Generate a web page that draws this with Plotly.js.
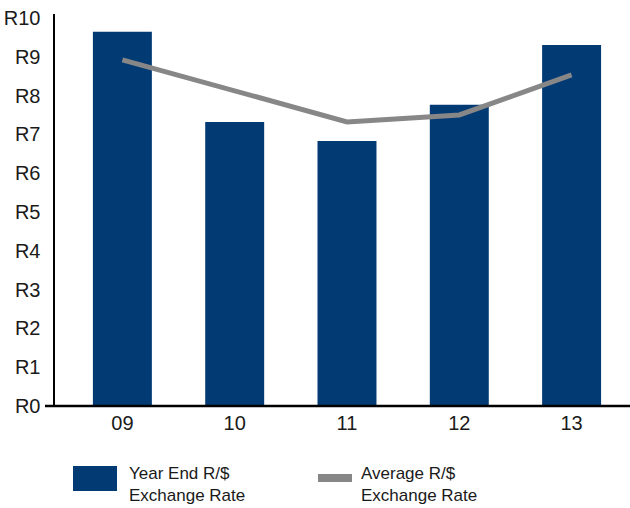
<!DOCTYPE html>
<html>
<head>
<meta charset="utf-8">
<script src="https://cdn.plot.ly/plotly-3.0.1.min.js"></script>
<style>html,body{margin:0;padding:0;background:#fff;}#chart{width:630px;height:508px;}</style>
</head>
<body>
<div id="chart"></div>
<script>
const years = ["09", "10", "11", "12", "13"];
const yearEndRate = [9.64, 7.32, 6.83, 7.76, 9.30];
const averageRate = [8.92, 8.12, 7.32, 7.50, 8.53];
const yTickValues = [0, 1, 2, 3, 4, 5, 6, 7, 8, 9, 10];
const yTickLabels = ["R0", "R1", "R2", "R3", "R4", "R5", "R6", "R7", "R8", "R9", "R10"];
const legendNames = ["Year End R/$<br>Exchange Rate", "Average R/$<br>Exchange Rate"];

const FONT = "'Liberation Sans', Arial, sans-serif";
const BAR_COLOR = "#023a74";
const LINE_COLOR = "#878787";
const TEXT_COLOR = "#1a1a1a";

const traces = [
  {
    type: "bar", x: years, y: yearEndRate, width: 0.525,
    marker: {color: BAR_COLOR}, name: "Year End", showlegend: false, hoverinfo: "skip"
  },
  {
    type: "scatter", mode: "lines", x: years, y: averageRate,
    line: {color: LINE_COLOR, width: 5}, name: "Average", showlegend: false, hoverinfo: "skip"
  }
];

const plotW = 575;
const layout = {
  width: 630, height: 508,
  margin: {l: 55, r: 0, t: 14, b: 102},
  paper_bgcolor: "#fff", plot_bgcolor: "#fff",
  font: {family: FONT, size: 20, color: TEXT_COLOR},
  xaxis: {
    type: "category", range: [-0.6, 4.52],
    showgrid: false, zeroline: false, showline: false,
    ticks: "", ticklabelstandoff: 3, tickfont: {family: FONT, size: 20, color: TEXT_COLOR}
  },
  yaxis: {
    range: [0, 10.1], tickvals: yTickValues, ticktext: yTickLabels,
    showgrid: false, zeroline: false, showline: true, linecolor: "#000", linewidth: 2.5,
    ticks: "", ticklabelstandoff: 8, tickfont: {family: FONT, size: 20, color: TEXT_COLOR}
  },
  shapes: [
    {type: "line", xref: "paper", yref: "paper", x0: -10/plotW, x1: 1, y0: 0, y1: 0,
     line: {color: "#000", width: 2.5}},
    {type: "rect", xref: "paper", yref: "paper",
     x0: (73-55)/plotW, x1: (117-55)/plotW, y0: -(491-406)/392, y1: -(466-406)/392,
     fillcolor: BAR_COLOR, line: {width: 0}},
    {type: "line", xref: "paper", yref: "paper",
     x0: (318-55)/plotW, x1: (352-55)/plotW, y0: -(478-406)/392, y1: -(478-406)/392,
     line: {color: LINE_COLOR, width: 8}}
  ],
  annotations: [
    {xref: "paper", yref: "paper", x: (127-55)/plotW, y: -(462-406)/392,
     xanchor: "left", yanchor: "top", align: "left", showarrow: false,
     text: legendNames[0], font: {family: FONT, size: 17, color: TEXT_COLOR}},
    {xref: "paper", yref: "paper", x: (359-55)/plotW, y: -(462-406)/392,
     xanchor: "left", yanchor: "top", align: "left", showarrow: false,
     text: legendNames[1], font: {family: FONT, size: 17, color: TEXT_COLOR}}
  ]
};

Plotly.newPlot("chart", traces, layout, {staticPlot: true, displayModeBar: false});
</script>
</body>
</html>
